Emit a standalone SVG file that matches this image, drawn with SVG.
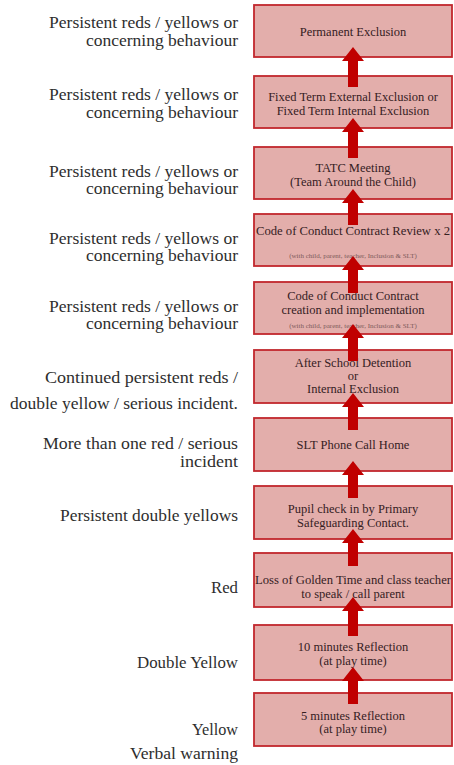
<svg xmlns="http://www.w3.org/2000/svg" width="454" height="765" viewBox="0 0 454 765">
<style>
.bg{fill:#ffffff}
.box{fill:#e3aeab;stroke:#c1272d;stroke-width:1.8}
.bt{font-size:12.5px;fill:#35201f;text-anchor:middle}
.st{font-size:7px;fill:#7d5a5a;text-anchor:middle}
.lt{font-size:16px;fill:#2e2e2e;text-anchor:end}
.arr{fill:#c00000}
</style>
<rect class="bg" x="0" y="0" width="454" height="765"/>
<g id="labels" font-family="Liberation Serif, DejaVu Serif, serif">
<text class="lt" x="238" y="28" textLength="189" lengthAdjust="spacingAndGlyphs">Persistent reds / yellows or</text>
<text class="lt" x="238" y="46" textLength="152" lengthAdjust="spacingAndGlyphs">concerning behaviour</text>
<text class="lt" x="238" y="100" textLength="189" lengthAdjust="spacingAndGlyphs">Persistent reds / yellows or</text>
<text class="lt" x="238" y="118" textLength="152" lengthAdjust="spacingAndGlyphs">concerning behaviour</text>
<text class="lt" x="238" y="177" textLength="189" lengthAdjust="spacingAndGlyphs">Persistent reds / yellows or</text>
<text class="lt" x="238" y="194" textLength="152" lengthAdjust="spacingAndGlyphs">concerning behaviour</text>
<text class="lt" x="238" y="244" textLength="189" lengthAdjust="spacingAndGlyphs">Persistent reds / yellows or</text>
<text class="lt" x="238" y="261" textLength="152" lengthAdjust="spacingAndGlyphs">concerning behaviour</text>
<text class="lt" x="238" y="312" textLength="189" lengthAdjust="spacingAndGlyphs">Persistent reds / yellows or</text>
<text class="lt" x="238" y="329" textLength="152" lengthAdjust="spacingAndGlyphs">concerning behaviour</text>
<text class="lt" x="238" y="383" textLength="193" lengthAdjust="spacingAndGlyphs">Continued persistent reds /</text>
<text class="lt" x="238" y="409" textLength="228" lengthAdjust="spacingAndGlyphs">double yellow / serious incident.</text>
<text class="lt" x="238" y="449" textLength="195" lengthAdjust="spacingAndGlyphs">More than one red / serious</text>
<text class="lt" x="238" y="467" textLength="58" lengthAdjust="spacingAndGlyphs">incident</text>
<text class="lt" x="238" y="521" textLength="178" lengthAdjust="spacingAndGlyphs">Persistent double yellows</text>
<text class="lt" x="238" y="593" textLength="27" lengthAdjust="spacingAndGlyphs">Red</text>
<text class="lt" x="238" y="668" textLength="101" lengthAdjust="spacingAndGlyphs">Double Yellow</text>
<text class="lt" x="238" y="735" textLength="46" lengthAdjust="spacingAndGlyphs">Yellow</text>
<text class="lt" x="238" y="759" textLength="108" lengthAdjust="spacingAndGlyphs">Verbal warning</text>
</g>
<g font-family="Liberation Serif, DejaVu Serif, serif">
<g id="n1"><rect class="box" x="254" y="5" width="198" height="52"/><text class="bt" x="353" y="36">Permanent Exclusion</text></g>
<g id="n2"><rect class="box" x="254" y="76" width="198" height="52"/><text class="bt" x="353" y="101">Fixed Term External Exclusion or</text><text class="bt" x="353" y="115">Fixed Term Internal Exclusion</text></g>
<g id="n3"><rect class="box" x="254" y="147" width="198" height="52"/><text class="bt" x="353" y="172">TATC Meeting</text><text class="bt" x="353" y="186">(Team Around the Child)</text></g>
<g id="n4"><rect class="box" x="254" y="214" width="198" height="52"/><text class="bt" x="353" y="235" textLength="194" lengthAdjust="spacingAndGlyphs">Code of Conduct Contract Review x 2</text><text class="st" x="353" y="258">(with child, parent, teacher, Inclusion &amp; SLT)</text></g>
<g id="n5"><rect class="box" x="254" y="282" width="198" height="52"/><text class="bt" x="353" y="300">Code of Conduct Contract</text><text class="bt" x="353" y="314">creation and implementation</text><text class="st" x="353" y="328">(with child, parent, teacher, Inclusion &amp; SLT)</text></g>
<g id="n6"><rect class="box" x="254" y="350" width="198" height="53"/><text class="bt" x="353" y="367">After School Detention</text><text class="bt" x="353" y="380">or</text><text class="bt" x="353" y="393">Internal Exclusion</text></g>
<g id="n7"><rect class="box" x="254" y="418" width="198" height="53"/><text class="bt" x="353" y="449">SLT Phone Call Home</text></g>
<g id="n8"><rect class="box" x="254" y="486" width="198" height="53"/><text class="bt" x="353" y="513">Pupil check in by Primary</text><text class="bt" x="353" y="527">Safeguarding Contact.</text></g>
<g id="n9"><rect class="box" x="254" y="553" width="198" height="54"/><text class="bt" x="353" y="584" textLength="196" lengthAdjust="spacingAndGlyphs">Loss of Golden Time and class teacher</text><text class="bt" x="353" y="598">to speak / call parent</text></g>
<g id="n10"><rect class="box" x="254" y="625" width="198" height="55"/><text class="bt" x="353" y="651">10 minutes Reflection</text><text class="bt" x="353" y="665">(at play time)</text></g>
<g id="n11"><rect class="box" x="254" y="693" width="198" height="53"/><text class="bt" x="353" y="720">5 minutes Reflection</text><text class="bt" x="353" y="733">(at play time)</text></g>
</g>
<g id="connectors">
<path class="arr" d="M353,47 L364,61 L358,61 L358,87 L348,87 L348,61 L342,61 Z"/>
<path class="arr" d="M353,118 L364,132 L358,132 L358,158 L348,158 L348,132 L342,132 Z"/>
<path class="arr" d="M353,189 L364,203 L358,203 L358,225 L348,225 L348,203 L342,203 Z"/>
<path class="arr" d="M353,256 L364,270 L358,270 L358,293 L348,293 L348,270 L342,270 Z"/>
<path class="arr" d="M353,324 L364,338 L358,338 L358,361 L348,361 L348,338 L342,338 Z"/>
<path class="arr" d="M353,393 L364,407 L358,407 L358,430 L348,430 L348,407 L342,407 Z"/>
<path class="arr" d="M353,461 L364,475 L358,475 L358,498 L348,498 L348,475 L342,475 Z"/>
<path class="arr" d="M353,529 L364,543 L358,543 L358,566 L348,566 L348,543 L342,543 Z"/>
<path class="arr" d="M353,597 L364,611 L358,611 L358,636 L348,636 L348,611 L342,611 Z"/>
<path class="arr" d="M353,667 L364,681 L358,681 L358,704 L348,704 L348,681 L342,681 Z"/>
</g>
</svg>
